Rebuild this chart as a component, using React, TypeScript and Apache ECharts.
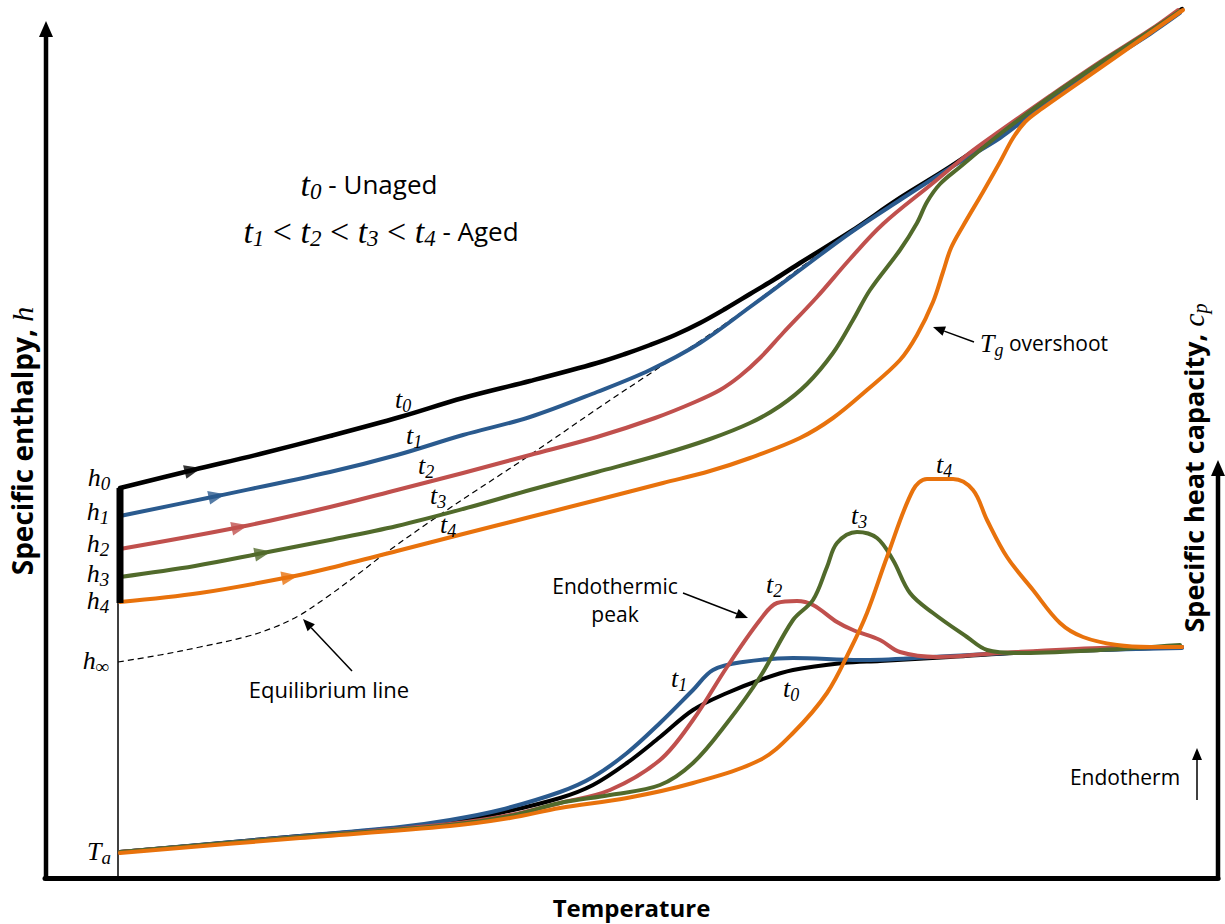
import React, { useEffect, useRef } from 'react';
import * as echarts from 'echarts';

// Temperature runs 0..1173 and enthalpy / heat capacity 0..878 (arbitrary units).

// Specific enthalpy on heating after ageing for t0 < t1 < t2 < t3 < t4
const enthalpyT0 = [[75,390],[148,408],[215,424],[285,442],[355,461],[418,480],[485,497],[552,515],[580,524],[605,533],[630,543],[655,555],[680,569],[705,584],[730,599],[755,615],[805,646],[855,680],[905,711],[955,745],[995,773],[1055,814],[1105,847],[1137,869]];
const enthalpyT1 = [[75,362],[172,382],[285,406],[352,423],[418,443],[485,461],[552,486],[605,508],[655,535],[705,571],[755,608],[805,645],[855,678],[905,710],[955,740],[988,765],[1055,812],[1105,844],[1135,865]];
const enthalpyT2 = [[75,329],[195,351],[285,371],[352,388],[418,405],[485,423],[552,441],[610,460],[650,476],[675,488],[695,502],[715,520],[738,545],[772,581],[805,619],[838,654],[888,695],[922,723],[955,747],[1005,782],[1055,816],[1105,848],[1133,868]];
const enthalpyT3 = [[75,301],[150,312],[218,325],[285,338],[352,352],[418,369],[485,388],[552,406],[618,424],[665,439],[705,455],[735,472],[762,494],[788,525],[808,558],[825,588],[855,628],[872,655],[882,676],[895,694],[915,711],[955,744],[1005,781],[1055,815],[1105,847],[1135,867]];
const enthalpyT4 = [[75,276],[155,285],[245,301],[285,310],[352,327],[418,344],[485,361],[552,378],[618,395],[665,407],[705,420],[755,440],[788,460],[822,488],[855,518],[872,543],[888,576],[898,606],[906,630],[918,652],[938,686],[955,716],[968,740],[980,756],[995,768],[1055,810],[1105,845],[1138,868]];
const equilibrium = [[73,216],[115,223],[155,231],[200,241],[230,251],[255,263],[282,281],[312,303],[342,326],[402,368],[482,421],[555,471],[618,513],[655,537],[705,572],[755,610],[805,646],[855,679],[905,712],[955,744],[1005,780],[1055,814],[1105,846],[1137,867]];

// Specific heat capacity on heating
const cpT0 = [[75,26],[155,33],[255,42],[355,50],[405,56],[455,65],[515,80],[548,93],[582,115],[615,141],[648,168],[682,185],[715,198],[748,208],[798,215],[835,217],[905,221],[988,226],[1055,228],[1137,231]];
const cpT1 = [[75,26],[255,42],[355,51],[405,58],[455,68],[515,86],[548,101],[582,125],[615,155],[648,188],[668,208],[698,216],[748,220],[815,218],[888,221],[988,226],[1137,230]];
const cpT2 = [[75,26],[255,41],[405,54],[465,63],[515,75],[565,88],[615,118],[648,158],[682,211],[715,258],[732,275],[752,277],[768,273],[792,256],[808,248],[835,238],[855,226],[892,221],[955,225],[1055,230],[1137,231]];
const cpT3 = [[75,26],[255,41],[405,53],[465,62],[515,75],[565,83],[615,93],[648,115],[682,155],[715,201],[748,258],[768,278],[782,311],[792,335],[812,346],[832,340],[848,318],[865,285],[888,265],[922,241],[942,228],[972,225],[1055,228],[1135,233]];
const cpT4 = [[75,25],[255,40],[405,52],[465,60],[515,70],[582,80],[648,95],[715,118],[748,145],[782,185],[805,228],[822,265],[842,321],[868,388],[882,399],[908,399],[928,388],[942,358],[962,321],[988,288],[1015,255],[1038,241],[1072,233],[1105,231],[1137,231]];

// Direction arrows on the heating paths: [temperature, enthalpy, rotation]
const flowT0 = [148, 408, -76];
const flowT1 = [172, 382, -78];
const flowT2 = [195, 351, -78];
const flowT3 = [218, 325, -79];
const flowT4 = [245, 301, -80];

// Ageing drop from h0 to h4 and the isothermal ageing temperature Ta
const ageingDrop = [[75, 390], [75, 275]];
const ageingTemp = [[73, 390], [73, 0]];

const COLORS = ['#000000', '#2A5A8E', '#C0504D', '#516A2B', '#E8720C'];

const SANS = '"Open Sans", "Noto Sans", sans-serif';
const SERIF = '"Liberation Serif", "DejaVu Serif", serif';

// m: italic math symbol, s: its subscript (pushed down by top padding), r: upright serif, n: sans text
function mathRich(m: number, s: number, sans: number, weight = 'normal') {
  const drop = Math.round(8 + 0.6 * (m - s));
  return {
    m: { fontFamily: SERIF, fontStyle: 'italic', fontSize: m, fill: '#000' },
    s: { fontFamily: SERIF, fontStyle: 'italic', fontSize: s, fill: '#000', padding: [drop, 0, 0, 0] },
    r: { fontFamily: SERIF, fontSize: m, fill: '#000' },
    n: { fontFamily: SANS, fontSize: sans, fontWeight: weight, fill: '#000' },
  };
}

function label(x: number, y: number, text: string, rich: any, align = 'center', rotation = 0) {
  return {
    type: 'text', x, y, rotation, z: 20,
    style: { text, rich, align, verticalAlign: 'middle', textAlign: align, textVerticalAlign: 'middle', fill: '#000' },
  };
}

function arrow(x1: number, y1: number, x2: number, y2: number, head = 12, half = 5, lw = 1.5) {
  const a = Math.atan2(y2 - y1, x2 - x1);
  const bx = x2 - head * Math.cos(a);
  const by = y2 - head * Math.sin(a);
  const px = -Math.sin(a);
  const py = Math.cos(a);
  return [
    { type: 'line', z: 20, shape: { x1, y1, x2: bx, y2: by }, style: { stroke: '#000', lineWidth: lw } },
    { type: 'polygon', z: 20, shape: { points: [[x2, y2], [bx + half * px, by + half * py], [bx - half * px, by - half * py]] }, style: { fill: '#000' } },
  ];
}

function curve(name: string, data: number[][], color: string, width: number) {
  return {
    type: 'line', name, data, showSymbol: false, smooth: 0.35, silent: true,
    lineStyle: { color, width, cap: 'round', join: 'round' }, itemStyle: { color },
  };
}

function flow(name: string, p: number[], color: string) {
  return {
    type: 'scatter', name, silent: true, z: 3,
    data: [{ value: [p[0], p[1]], symbolRotate: p[2] }],
    symbol: 'triangle', symbolSize: [14, 17], itemStyle: { color },
  };
}

export default function App() {
  const ref = useRef<HTMLDivElement>(null);

  useEffect(() => {
    const chart = echarts.init(ref.current!, null, { renderer: 'svg' });
    const small = mathRich(26, 18, 21);
    const hRich = mathRich(26, 19, 21);
    const legend = mathRich(34, 23, 26);
    const leftRich = mathRich(30, 20, 28, 'bold');
    const rightRich = mathRich(30, 20, 27, 'bold');

    chart.setOption({
      animation: false,
      backgroundColor: '#ffffff',
      grid: { left: 45, right: 7, top: 0, bottom: 46, containLabel: false, outerBoundsMode: 'none' },
      xAxis: {
        type: 'value', min: 0, max: 1173,
        axisLine: { show: true, onZero: false, lineStyle: { color: '#000', width: 5 } },
        axisTick: { show: false }, axisLabel: { show: false }, splitLine: { show: false },
        name: 'Temperature', nameLocation: 'middle', nameGap: 17,
        nameTextStyle: { fontFamily: SANS, fontWeight: 'bold', fontSize: 24, color: '#000' },
      },
      yAxis: { type: 'value', min: 0, max: 878, show: false },
      series: [
        { type: 'line', data: ageingTemp, showSymbol: false, silent: true, lineStyle: { color: '#000', width: 1.5 } },
        { type: 'line', data: equilibrium, showSymbol: false, smooth: 0.35, silent: true, lineStyle: { color: '#000', width: 1.2, type: [6, 4] } },
        curve('cp t0', cpT0, COLORS[0], 4),
        curve('cp t1', cpT1, COLORS[1], 4),
        curve('cp t2', cpT2, COLORS[2], 4),
        curve('cp t3', cpT3, COLORS[3], 4),
        curve('cp t4', cpT4, COLORS[4], 4),
        curve('h t0', enthalpyT0, COLORS[0], 4.5),
        curve('h t1', enthalpyT1, COLORS[1], 4),
        curve('h t2', enthalpyT2, COLORS[2], 4),
        curve('h t3', enthalpyT3, COLORS[3], 4),
        curve('h t4', enthalpyT4, COLORS[4], 4),
        { type: 'line', data: ageingDrop, showSymbol: false, silent: true, lineStyle: { color: '#000', width: 7, cap: 'butt' } },
        flow('flow t0', flowT0, COLORS[0]),
        flow('flow t1', flowT1, COLORS[1]),
        flow('flow t2', flowT2, COLORS[2]),
        flow('flow t3', flowT3, COLORS[3]),
        flow('flow t4', flowT4, COLORS[4]),
      ],
      graphic: [
        // enthalpy axis
        { type: 'line', z: 20, shape: { x1: 46, y1: 880, x2: 46, y2: 34 }, style: { stroke: '#000', lineWidth: 4.5 } },
        { type: 'polygon', z: 20, shape: { points: [[46, 21], [39, 37], [53, 37]] }, style: { fill: '#000' } },
        // heat capacity axis
        { type: 'line', z: 20, shape: { x1: 1218, y1: 880, x2: 1218, y2: 472 }, style: { stroke: '#000', lineWidth: 4.5 } },
        { type: 'polygon', z: 20, shape: { points: [[1218, 460], [1211, 476], [1225, 476]] }, style: { fill: '#000' } },

        label(22, 441, '{n|Specific enthalpy, }{m|h}', leftRich, 'center', Math.PI / 2),
        label(1193, 468, '{n|Specific heat capacity, }{m|c}{s|p}', rightRich, 'center', Math.PI / 2),

        label(369, 184, '{m|t}{s|0}{n| - Unaged}', legend),
        label(381, 231, '{m|t}{s|1}{r| < }{m|t}{s|2}{r| < }{m|t}{s|3}{r| < }{m|t}{s|4}{n| - Aged}', legend),

        label(99, 477, '{m|h}{s|0}', hRich),
        label(98, 511, '{m|h}{s|1}', hRich),
        label(98, 543, '{m|h}{s|2}', hRich),
        label(98, 573, '{m|h}{s|3}', hRich),
        label(98, 600, '{m|h}{s|4}', hRich),
        label(96, 660, '{m|h}{s|∞}', hRich),
        label(99, 851, '{m|T}{s|a}', hRich),

        label(403, 399, '{m|t}{s|0}', small),
        label(414, 435, '{m|t}{s|1}', small),
        label(426, 465, '{m|t}{s|2}', small),
        label(438, 495, '{m|t}{s|3}', small),
        label(448, 524, '{m|t}{s|4}', small),

        label(679, 678, '{m|t}{s|1}', small),
        label(791, 688, '{m|t}{s|0}', small),
        label(774, 584, '{m|t}{s|2}', small),
        label(859, 515, '{m|t}{s|3}', small),
        label(944, 464, '{m|t}{s|4}', small),

        label(980, 343, '{m|T}{s|g}{n| overshoot}', small, 'left'),
        label(615, 586, '{n|Endothermic}', small),
        label(615, 614, '{n|peak}', small),
        label(329, 689, '{n|Equilibrium line}', mathRich(26, 18, 22)),
        label(1125, 777, '{n|Endotherm}', small),

        ...arrow(352, 671, 303, 619),
        ...arrow(683, 593, 748, 618),
        ...arrow(974, 342, 933, 327),
        ...arrow(1197, 800, 1197, 748, 12, 5, 1.5),
      ],
    });
    return () => chart.dispose();
  }, []);

  return <div ref={ref} style={{ position: 'absolute', left: 0, top: 0, width: 1225, height: 924 }} />;
}
